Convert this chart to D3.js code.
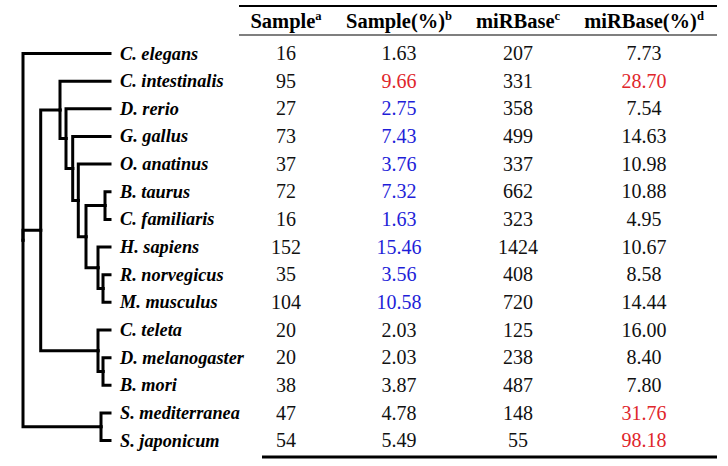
<!DOCTYPE html>
<html>
<head>
<meta charset="utf-8">
<script src="https://cdn.jsdelivr.net/npm/d3@7"></script>
<style>
  body { margin: 0; background: #fff; }
  svg { display: block; }
</style>
</head>
<body>
<svg id="chart" width="728" height="466"></svg>
<script>
// ---- data ----
const species = ["C. elegans", "C. intestinalis", "D. rerio", "G. gallus", "O. anatinus",
  "B. taurus", "C. familiaris", "H. sapiens", "R. norvegicus", "M. musculus",
  "C. teleta", "D. melanogaster", "B. mori", "S. mediterranea", "S. japonicum"];
const sample = [16, 95, 27, 73, 37, 72, 16, 152, 35, 104, 20, 20, 38, 47, 54];
const samplePct = [1.63, 9.66, 2.75, 7.43, 3.76, 7.32, 1.63, 15.46, 3.56, 10.58, 2.03, 2.03, 3.87, 4.78, 5.49];
const mirbase = [207, 331, 358, 499, 337, 662, 323, 1424, 408, 720, 125, 238, 487, 148, 55];
const mirbasePct = [7.73, 28.70, 7.54, 14.63, 10.98, 10.88, 4.95, 10.67, 8.58, 14.44, 16.00, 8.40, 7.80, 31.76, 98.18];
// highlight groups: "high" (red), "vert" (blue), "" (plain)
const samplePctFlag = ["", "high", "vert", "vert", "vert", "vert", "vert", "vert", "vert", "vert", "", "", "", "", ""];
const mirbasePctFlag = ["", "high", "", "", "", "", "", "", "", "", "", "", "", "high", "high"];
const headers = [["Sample", "a"], ["Sample(%)", "b"], ["miRBase", "c"], ["miRBase(%)", "d"]];
// cladogram, branch lengths
const newick = "(C. elegans:87,((C. intestinalis:50,(D. rerio:44,(G. gallus:37.3,(O. anatinus:31.7," +
  "((B. taurus:5,C. familiaris:5):19,(H. sapiens:12,(R. norvegicus:7,M. musculus:7):5):12):7.7):5.6):6.7):6):19.3," +
  "(C. teleta:12,(D. melanogaster:7,B. mori:7):5):57.3):17.7,(S. mediterranea:9,S. japonicum:9):78);";

// ---- layout ----
const colX = [286, 399, 518, 644];
const flagColor = { high: "#e0262b", vert: "#1e1ed8", "": "#111" };
const serif = "'Liberation Serif', 'Times New Roman', serif";

const svg = d3.select("#chart");

function parseNewick(s) {
  let i = 0;
  function node() {
    const n = { children: [] };
    if (s[i] === "(") {
      i++;
      n.children.push(node());
      while (s[i] === ",") { i++; n.children.push(node()); }
      i++; // ')'
    }
    let name = "";
    while (i < s.length && !",():;".includes(s[i])) name += s[i++];
    n.name = name.trim();
    if (s[i] === ":") {
      i++;
      let num = "";
      while (i < s.length && !",();".includes(s[i])) num += s[i++];
      n.length = +num;
    }
    if (!n.children.length) delete n.children;
    return n;
  }
  return node();
}

const y = d3.scalePoint().domain(species).range([53.5, 440.6]);
const x = d3.scaleLinear().domain([0, 87]).range([23, 110]);

const root = d3.hierarchy(parseNewick(newick));
root.eachBefore(d => { d.len = (d.parent ? d.parent.len : 0) + (d.data.length || 0); });
root.eachAfter(d => {
  d.py = d.children ? (d.children[0].py + d.children[d.children.length - 1].py) / 2 : y(d.data.name);
  d.px = x(d.len);
});

// tree branches
svg.append("g")
  .attr("fill", "none")
  .attr("stroke", "#000")
  .attr("stroke-width", 3)
  .attr("stroke-linecap", "square")
  .selectAll("path")
  .data(root.links())
  .join("path")
  .attr("d", l => `M${l.source.px},${l.source.py}V${l.target.py}H${l.target.px}`);

// species labels
svg.append("g")
  .selectAll("text")
  .data(root.leaves())
  .join("text")
  .attr("x", 120)
  .attr("y", d => d.py)
  .attr("dy", "0.33em")
  .attr("font-family", serif)
  .attr("font-size", 18.3)
  .attr("font-style", "italic")
  .attr("font-weight", "bold")
  .text(d => d.data.name);

// table rules
const rules = [
  { x1: 239, x2: 717, y: 6, w: 2 },
  { x1: 239, x2: 717, y: 35, w: 1.2 },
  { x1: 262, x2: 717, y: 457, w: 3 }
];
svg.append("g").selectAll("line").data(rules).join("line")
  .attr("x1", d => d.x1).attr("x2", d => d.x2)
  .attr("y1", d => d.y).attr("y2", d => d.y)
  .attr("stroke", "#000").attr("stroke-width", d => d.w);

// header
const head = svg.append("g").selectAll("text").data(headers).join("text")
  .attr("x", (d, i) => colX[i])
  .attr("y", 21)
  .attr("dy", "0.33em")
  .attr("text-anchor", "middle")
  .attr("font-family", serif)
  .attr("font-weight", "bold")
  .attr("font-size", 20.5);
head.append("tspan").text(d => d[0]);
head.append("tspan").attr("font-size", 12.5).attr("dy", -7.5).text(d => d[1]);

// body cells
const f2 = d3.format(".2f");
const columns = [
  { vals: sample.map(String), flags: species.map(() => "") },
  { vals: samplePct.map(f2), flags: samplePctFlag },
  { vals: mirbase.map(String), flags: species.map(() => "") },
  { vals: mirbasePct.map(f2), flags: mirbasePctFlag }
];
columns.forEach((col, c) => {
  svg.append("g").selectAll("text")
    .data(species)
    .join("text")
    .attr("x", colX[c])
    .attr("y", d => y(d))
    .attr("dy", "0.33em")
    .attr("text-anchor", "middle")
    .attr("font-family", serif)
    .attr("font-size", 20)
    .attr("fill", (d, i) => flagColor[col.flags[i]])
    .text((d, i) => col.vals[i]);
});
</script>
</body>
</html>
